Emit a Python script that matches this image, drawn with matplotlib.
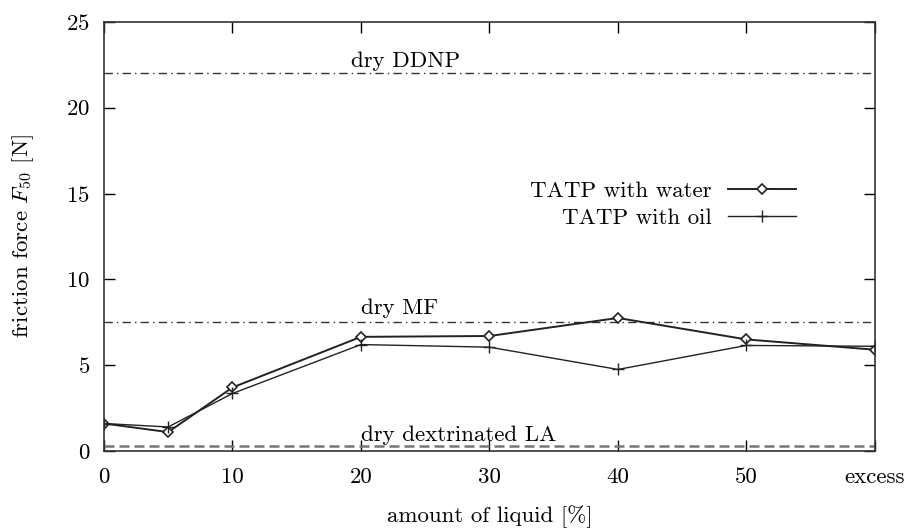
import matplotlib
matplotlib.use('Agg')
from matplotlib import pyplot as plt

# amount of liquid [%], "excess" plotted at 60
liquid = [0, 5, 10, 20, 30, 40, 50, 60]
water = [1.6, 1.1, 3.7, 6.65, 6.7, 7.75, 6.5, 5.9]
oil = [1.6, 1.4, 3.35, 6.2, 6.05, 4.75, 6.15, 6.1]

x_ticks = [0, 10, 20, 30, 40, 50, 60]
x_labels = ['0', '10', '20', '30', '40', '50', 'excess']
y_ticks = [0, 5, 10, 15, 20, 25]

# reference levels for dry explosives
dry_ddnp = 22.0
dry_mf = 7.5
dry_la = 0.3

plt.rcParams['font.family'] = ['cmr10', 'DejaVu Serif']
plt.rcParams['mathtext.fontset'] = 'cm'
plt.rcParams['axes.formatter.use_mathtext'] = True

fs = 16.5

fig = plt.figure(figsize=(9.08, 5.31), dpi=100)
ax = fig.add_axes([0.1145, 0.1507, 0.849, 0.808])

ax.axhline(dry_ddnp, color='#333333', linestyle=(0, (6, 3, 1, 3)), linewidth=1.0)
ax.axhline(dry_mf, color='#333333', linestyle=(0, (6, 3, 1, 3)), linewidth=1.0)
ax.axhline(dry_la, color='#777777', linestyle=(0, (4, 2)), linewidth=1.8)

ax.text(19.2, 22.35, 'dry DDNP', fontsize=fs)
ax.text(20.0, 8.0, 'dry MF', fontsize=fs)
ax.text(20.0, 0.6, 'dry dextrinated LA', fontsize=fs)

ax.plot(liquid, water, color='#222222', linewidth=1.4, marker='D',
        markersize=5, markerfacecolor='white', markeredgecolor='#222222',
        markeredgewidth=1.2, label='TATP with water')
ax.plot(liquid, oil, color='#222222', linewidth=1.0, marker='+',
        markersize=9, markeredgewidth=1.0, label='TATP with oil')

ax.set_xlim(0, 60)
ax.set_ylim(0, 25)
ax.set_xticks(x_ticks)
ax.set_xticklabels(x_labels)
ax.set_yticks(y_ticks)
ax.tick_params(direction='in', top=True, right=True, length=8, width=1.0,
               labelsize=fs)
ax.tick_params(axis='x', pad=12)
ax.tick_params(axis='y', pad=10)
for s in ax.spines.values():
    s.set_linewidth(1.2)
    s.set_color('#333333')

ax.set_xlabel('amount of liquid [%]', fontsize=fs, labelpad=13)
ax.set_ylabel('friction force $F_{50}$ [N]', fontsize=fs, labelpad=22)

ax.legend(loc='center right', bbox_to_anchor=(0.925, 0.575), frameon=False,
          markerfirst=False, fontsize=fs, handlelength=3.0,
          handletextpad=0.7, labelspacing=0.3)

fig.savefig('out.png', dpi=100)
